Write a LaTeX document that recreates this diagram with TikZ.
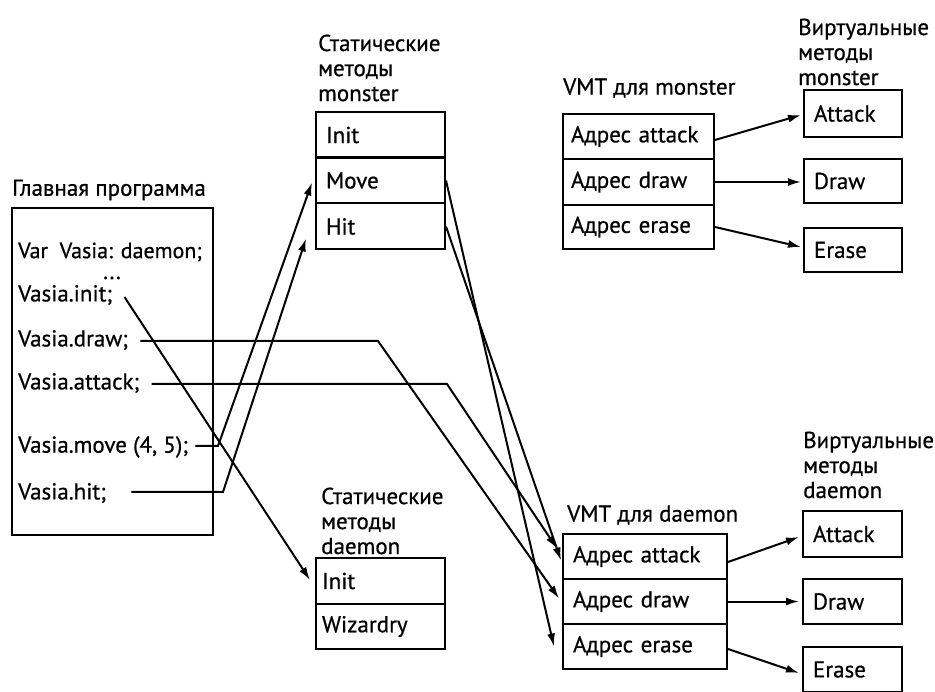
\documentclass[tikz,border=0pt]{standalone}
\usepackage{fontspec}
\setmainfont{PT Sans}[FakeBold=0.6]
\usetikzlibrary{arrows.meta,calc}
\begin{document}
\begin{tikzpicture}[x=1pt,y=-1pt,
  every node/.style={font=\fontsize{23}{25}\selectfont, inner sep=0pt},
  lnk/.style={line width=2pt},
  arr/.style={lnk,-{Latex[length=13pt,width=8pt]}},
  box/.style={draw,line width=2pt},
  row/.style n args={2}{box, text width=#1, minimum height=#2, inner xsep=10pt, align=left},
  ttl/.style={align=left, anchor=west},
  ]
\useasboundingbox (0,0) rectangle (935,692);

% ---------- main program ----------
\node[ttl] (tMain) at (12,190) {Главная программа};
\node[box, minimum width=201pt, minimum height=327pt] (main) at (112.5,371.5) {};
\node[anchor=west, font=\fontsize{22}{25}\selectfont] (tVar) at (18,252) {Var\ \ Vasia: daemon;};
\node[anchor=base, text height=4pt, text depth=0pt] (tDots) at (112,279) {...};
\node[anchor=west] (tInit) at (18,295) {Vasia.init;};
\node[anchor=west] (tDraw) at (18,340) {Vasia.draw;};
\node[anchor=west] (tAtt) at (18,383) {Vasia.attack;};
\node[anchor=west] (tMove) at (18,447) {Vasia.move (4, 5);};
\node[anchor=west] (tHit) at (18,493) {Vasia.hit;};

% ---------- static monster ----------
\node[ttl] (tSM) at (318,68) {Статические\\методы\\monster};
\node[row={109pt}{46pt}] (mInit) at (380.5,135) {Init};
\node[row={109pt}{46pt}] (mMove) at (380.5,180.5) {Move};
\node[row={109pt}{46pt}] (mHit) at (380.5,226.5) {Hit};

% ---------- static daemon ----------
\node[ttl] (tSD) at (321,521) {Статические\\методы\\daemon};
\node[row={117pt}{46pt}, inner xsep=6pt] (dInit) at (380.5,581) {Init};
\node[row={117pt}{45pt}, inner xsep=6pt] (dWiz) at (380.5,626.5) {Wizardry};

% ---------- VMT monster ----------
\node[ttl] (tVM) at (563,88) {VMT для monster};
\node[row={135pt}{45pt}, inner xsep=8pt] (mvA) at (638.5,136.5) {Адрес attack};
\node[row={135pt}{46pt}, inner xsep=8pt] (mvD) at (638.5,182) {Адрес draw};
\node[row={135pt}{44pt}, inner xsep=8pt] (mvE) at (638.5,227) {Адрес erase};

% ---------- VMT daemon ----------
\node[ttl] (tVD) at (567,515) {VMT для daemon};
\node[row={144pt}{45pt}] (dvA) at (645,556.5) {Адрес attack};
\node[row={144pt}{45pt}] (dvD) at (645,601.5) {Адрес draw};
\node[row={144pt}{45pt}] (dvE) at (645,646.5) {Адрес erase};

% ---------- virtual monster ----------
\node[ttl] (tVirM) at (798,52) {Виртуальные\\методы\\monster};
\node[row={78pt}{47pt}] (vmA) at (853,113.5) {Attack};
\node[row={78pt}{44pt}] (vmD) at (853,181) {Draw};
\node[row={78pt}{44pt}] (vmE) at (853,250) {Erase};

% ---------- virtual daemon ----------
\node[ttl] (tVirD) at (803,465) {Виртуальные\\методы\\daemon};
\node[row={79pt}{46pt}] (vdA) at (852.5,534) {Attack};
\node[row={79pt}{45pt}] (vdD) at (852.5,601.5) {Draw};
\node[row={79pt}{45pt}] (vdE) at (852.5,669.5) {Erase};

% ---------- bend points ----------
\coordinate (kDraw) at (378,0);
\coordinate (kAtt) at (447,0);
\coordinate (kMove) at (218,0);
\coordinate (kHit) at (223,0);

% ---------- connectors from main program ----------
\draw[arr] ($(tInit.east)+(12,2)$) -- ($(dInit.west)+(-5,-1)$);
\draw[arr] ($(tDraw.east)+(12,1)$) -- ($(kDraw |- tDraw.east)+(0,1)$) -- ($(dvD.west)+(-3,-3)$);
\draw[arr] ($(tAtt.east)+(12,1)$) -- ($(kAtt |- tAtt.east)+(0,1)$) -- ($(dvA.west)+(-5,-8)$);
\draw[arr] ($(tMove.east)+(7,-1)$) -- ($(kMove |- tMove.east)+(0,-1)$) -- ($(mMove.west)+(-3,2)$);
\draw[arr] ($(tHit.east)+(25,-1)$) -- ($(kHit |- tHit.east)+(0,-1)$) -- ($(mHit.west)+(-9,12)$);

% ---------- static monster -> VMT daemon ----------
\draw[arr] (mMove.east) -- ($(dvE.west)+(-8,0)$);
\draw[arr] (mHit.east) -- ($(dvA.west)+(-1,4)$);

% ---------- VMT -> virtual methods ----------
\draw[arr] ($(mvA.east)+(0,3.5)$) -- ($(vmA.west)+(-2,1.5)$);
\draw[arr] (mvD.east) -- ($(vmD.west)+(-2,1)$);
\draw[arr] ($(mvE.east)+(0,0)$) -- ($(vmE.west)+(-2,-3)$);
\draw[arr] ($(dvA.east)+(0,5.5)$) -- ($(vdA.west)+(-3,3)$);
\draw[arr] (dvD.east) -- ($(vdD.west)+(-3,0)$);
\draw[arr] ($(dvE.east)+(0,2.5)$) -- ($(vdE.west)+(-3,3.5)$);
\end{tikzpicture}
\end{document}
